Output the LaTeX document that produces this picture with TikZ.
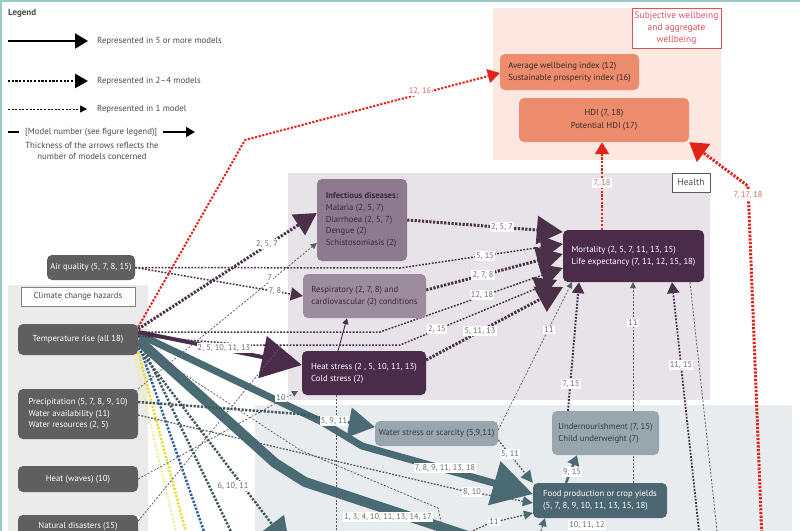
\documentclass[tikz,border=0pt]{standalone}
\usepackage{fontspec}
\setmainfont{PT Sans}
\usetikzlibrary{arrows.meta}
\definecolor{hazdark}{HTML}{5F5F5F}
\definecolor{hzbg}{HTML}{EBEBEB}
\definecolor{hlbg}{HTML}{E8E3E9}
\definecolor{nubg}{HTML}{E8ECEF}
\definecolor{wbbg}{HTML}{FDE7E1}
\definecolor{salmon}{HTML}{EC8C6C}
\definecolor{wbred}{HTML}{E0505A}
\definecolor{arrred}{HTML}{E2231A}
\definecolor{lblred}{HTML}{D8675C}
\definecolor{purp}{HTML}{4A2B4A}
\definecolor{purpline}{HTML}{4A3149}
\definecolor{infc}{HTML}{8D7A8F}
\definecolor{respc}{HTML}{9D8B9E}
\definecolor{purptext}{HTML}{3B283B}
\definecolor{tealdk}{HTML}{4C6771}
\definecolor{tealar}{HTML}{4A6B74}
\definecolor{slate}{HTML}{3F5560}
\definecolor{greyblue}{HTML}{9AA6AD}
\definecolor{linegray}{HTML}{555A5E}
\definecolor{lblgray}{HTML}{6B6B6B}
\definecolor{legtext}{HTML}{4A4A4A}
\definecolor{frame}{HTML}{9CCBC7}
\definecolor{ylw}{HTML}{E6DE30}
\definecolor{pylw}{HTML}{F1EDA0}
\definecolor{blu}{HTML}{2D5E9E}
\definecolor{wbtext}{HTML}{3B2A26}
\definecolor{nutext}{HTML}{2F3A40}
\newcommand\dgfont{\fontsize{8.7}{11.8}\selectfont}
\newcommand\lblfont{\fontsize{8.3}{9}\selectfont}
\pgfdeclarelayer{bgl}
\pgfdeclarelayer{lnl}
\pgfsetlayers{bgl,lnl,main}
\begin{document}
\begin{tikzpicture}[x=1pt,y=-1pt,font=\dgfont,
  box/.style={rounded corners=5pt, inner sep=0pt, align=left},
  hz/.style={box, fill=hazdark, text=white},
  hlth/.style={box, fill=purp, text=white},
  wbbox/.style={box, fill=salmon, text=wbtext},
  nubox/.style={box, fill=greyblue, text=nutext},
  seclab/.style={fill=white, draw=#1, line width=0.8pt, inner sep=0pt, align=center},
  legt/.style={anchor=west, text=legtext, inner sep=0pt, font=\fontsize{8.8}{11}\selectfont},
  lbl/.style={fill=white, inner sep=1.2pt, text=lblgray, font=\lblfont},
  lblr/.style={lbl, text=lblred},
  onel/.style={draw=linegray, line width=0.75pt, dash pattern=on 2pt off 1.6pt},
  midl/.style={line width=1.5pt, dash pattern=on 1.8pt off 1.5pt},
  fewl/.style={line width=3pt, dash pattern=on 2.2pt off 1.5pt},
  tipS/.style={-{Triangle[length=6pt,width=6pt]}},
  tipM/.style={-{Triangle[length=12pt,width=13pt]}},
  tipL/.style={-{Triangle[length=22pt,width=24pt]}},
  tipX/.style={-{Triangle[length=26pt,width=28pt]}}
]
\useasboundingbox (0,0) rectangle (800,530);

\begin{pgfonlayer}{bgl}
\fill[white] (0,0) rectangle (800,530);
\fill[wbbg] (493,8) rectangle (721,160);
\fill[hlbg] (288,173) rectangle (710,400);
\fill[hzbg] (8,285) rectangle (148,540);
\fill[nubg] (255,405) rectangle (792,540);
\draw[frame, line width=1.6pt] (0.8,540) -- (0.8,0.8) -- (800,0.8);
\end{pgfonlayer}

% ---------- legend ----------
\node[anchor=west, text=legtext, inner sep=0pt, font=\fontsize{9}{11}\selectfont\bfseries] (leg) at (8,13) {Legend};
\coordinate (la1) at (8,41);  \coordinate (la2) at (88,41);
\coordinate (lb1) at (8,81);  \coordinate (lb2) at (88,81);
\coordinate (lc1) at (8,109); \coordinate (lc2) at (87,109);
\coordinate (ld1) at (8,132); \coordinate (ld2) at (19,132);
\coordinate (le1) at (163,132); \coordinate (le2) at (195,132);
\draw[line width=2pt, -{Triangle[length=13pt,width=15pt]}] (la1) -- (la2);
\draw[fewl, line width=2.4pt, -{Triangle[length=13pt,width=14pt]}] (lb1) -- (lb2);
\draw[onel, draw=black, line width=0.7pt, -{Triangle[length=7pt,width=7pt]}] (lc1) -- (lc2);
\draw[line width=1.5pt] (ld1) -- (ld2);
\draw[line width=1.5pt, -{Triangle[length=9pt,width=10pt]}] (le1) -- (le2);
\node[legt] (lt1) at (97,41) {Represented in 5 or more models};
\node[legt] (lt2) at (97,81) {Represented in 2–4 models};
\node[legt] (lt3) at (97,109) {Represented in 1 model};
\node[legt] (lt4) at (25,132) {[Model number (see figure legend)]};
\node[text=legtext, align=center, inner sep=0pt, font=\fontsize{8.8}{11}\selectfont] (lt5) at (92,150.5) {Thickness of the arrows reflects the\\number of models concerned};

% ---------- section labels ----------
\node[seclab=wbred, text=wbred, minimum width=89pt, minimum height=40pt, font=\fontsize{9.4}{12}\selectfont] (wbl) at (676.5,28) {Subjective wellbeing\\and aggregate\\wellbeing};
\node[seclab=black!65, text=legtext, minimum width=38pt, minimum height=19pt, font=\fontsize{9.4}{11}\selectfont] (hl) at (691,182.5) {Health};
\node[seclab=black!50, text=legtext, minimum width=114pt, minimum height=19pt] (cch) at (78,296.5) {Climate change hazards};

% ---------- wellbeing ----------
\node[wbbox, minimum width=139pt, minimum height=36pt] (awi) at (569.5,72) {Average wellbeing index (12)\\Sustainable prosperity index (16)};
\node[wbbox, align=center, minimum width=170pt, minimum height=44pt, font=\fontsize{8.7}{12.7}\selectfont] (hdi) at (604,120) {HDI (7, 18)\\Potential HDI (17)};

% ---------- health ----------
\node[box, fill=infc, text=purptext, minimum width=90pt, minimum height=82pt, font=\fontsize{8.7}{11.8}\selectfont] (inf) at (362,220) {\textbf{Infectious diseases:}\\Malaria (2, 5, 7)\\Diarrhoea (2, 5, 7)\\Dengue (2)\\Schistosomiasis (2)};
\node[box, fill=respc, text=purptext, minimum width=123pt, minimum height=44pt] (resp) at (364.5,296) {Respiratory (2, 7, 8) and\\cardiovascular (2) conditions};
\node[hlth, minimum width=141pt, minimum height=52pt] (mort) at (633.5,256) {Mortality (2, 5, 7, 11, 13, 15)\\Life expectancy (7, 11, 12, 15, 18)};
\node[hlth, minimum width=124pt, minimum height=44pt] (heat) at (364,373) {Heat stress (2 , 5, 10, 11, 13)\\Cold stress (2)};

% ---------- hazards ----------
\node[hz, minimum width=88pt, minimum height=25pt] (air) at (91,267.5) {Air quality (5, 7, 8, 15)};
\node[hz, minimum width=120pt, minimum height=31pt] (temp) at (78,339.5) {Temperature rise (all 18)};
\node[hz, minimum width=120pt, minimum height=50pt] (prec) at (78,414) {Precipitation (5, 7, 8, 9, 10)\\Water availability (11)\\Water resources (2, 5)};
\node[hz, minimum width=120pt, minimum height=26pt] (heatw) at (78,479) {Heat (waves) (10)};
\node[hz, minimum width=120pt, minimum height=22pt] (nat) at (78,526) {Natural disasters (15)};

% ---------- nutrition ----------
\node[nubox, minimum width=123pt, minimum height=25pt] (water) at (436.5,433.5) {Water stress or scarcity (5,9,11)};
\node[nubox, minimum width=107pt, minimum height=44pt] (under) at (605.5,433) {Undernourishment (7, 15)\\Child underweight (7)};
\node[box, fill=tealdk, text=white, minimum width=134pt, minimum height=35pt] (food) at (600,500.5) {Food production or crop yields\\(5, 7, 8, 9, 10, 11, 13, 15, 18)};

% free ends below the picture
\coordinate (rb) at (762,540);
\coordinate (b1) at (336,540);
\coordinate (b2) at (480,540);
\coordinate (b3) at (290,548);
\coordinate (b4) at (700,540);
\coordinate (b5) at (718,540);
\coordinate (b6) at (452,540);
\coordinate (b7) at (538,540);
\coordinate (b8) at (445,540);
\coordinate (y1) at (178,540);
\coordinate (y2) at (188,540);
\coordinate (y3) at (207,540);
\coordinate (y4) at (235,540);

\begin{pgfonlayer}{lnl}
% red
\draw[fewl, draw=arrred, line width=2pt, -{Triangle[length=12pt,width=14pt]}] (temp.east |- 0,327) -- (245,140) -- (awi.west |- 0,73);
\draw[fewl, draw=arrred, line width=2pt, -{Triangle[length=12pt,width=14pt]}] (mort.north -| 602,0) -- (hdi.south -| 602,0);
\draw[fewl, draw=arrred, line width=3pt, line join=round, -{Triangle[length=18pt,width=22pt]}] (rb) -- (748,186) -- (hdi.south east);
% coloured dotted from temperature
\draw[fewl, draw=pylw, line width=2pt] (temp.south east) ++(-4,0) -- (y1);
\draw[fewl, draw=ylw, line width=2.5pt] (temp.east |- 0,352) -- (y2);
\draw[fewl, draw=blu, line width=2.5pt] (temp.east |- 0,354) ++(4,0) -- (y3);
\draw[fewl, draw=slate, line width=2.5pt] (temp.east |- 0,352) ++(7,0) -- (y4);
% teal solid
\draw[tealar, line width=10pt, line join=round] (temp.east |- 0,340) -- (275,463) -- (305,482) -- (b2);
\draw[tealar, line width=7pt, line join=round, -{Triangle[length=40pt,width=44pt]}] (temp.east |- 0,334) -- (322,422) -- (362,446) -- (food.west |- 0,494);
\draw[fewl, draw=slate, line width=2.5pt, -{Triangle[length=30pt,width=30pt,color=tealar]}] (temp.east |- 0,348) -- (b3);
% purple to health
\draw[fewl, draw=purpline, tipL] (temp.east |- 0,329) -- (inf.west |- 0,213);
\draw[purp, line width=4pt, -{Triangle[length=40pt,width=42pt]}] (temp.east |- 0,332) -- (heat.west |- 0,365);
\draw[midl, draw=purpline, tipL] (temp.east |- 0,332) -- (380,332) -- (mort.west |- 0,268);
\draw[midl, draw=purpline, tipL] (temp.east |- 0,336) -- (250,345) -- (400,345) -- (557,280);
\draw[onel] (nat.east |- 0,521) -- (282,345);
\draw[midl, draw=purpline, tipL] (air.east) -- (400,268) -- (mort.west |- 0,244);
\draw[midl, draw=purpline, tipM] (air.east) -- (resp.west);
\draw[onel, tipS] (prec.north east) -- (inf.west |- 0,243);
\draw[fewl, draw=purpline, tipX] (inf.east |- 0,220) -- (mort.west |- 0,232);
\draw[fewl, draw=purpline, tipX] (resp.east |- 0,290) -- (mort.west |- 0,254);
\draw[fewl, draw=purpline, tipX] (heat.east |- 0,360) -- (563,287);
\draw[purp, line width=0.9pt, tipS] (heat.north -| 338,0) -- (resp.south -| 347,0);
\draw[onel, tipS] (heatw.east) -- (298,391);
\draw[onel] (heat.south -| 336,0) -- (b1);
% water / food
\draw[fewl, draw=slate, line width=2.5pt, -{Triangle[length=26pt,width=30pt,color=tealar]}] (prec.east |- 0,402) -- (300,414) -- (water.west |- 0,427);
\draw[midl, draw=linegray, line width=1.3pt, -{Triangle[length=10pt,width=10pt,color=tealar]}] (prec.east |- 0,415) -- (460,490) -- (food.west |- 0,503);
\draw[onel] (temp.east |- 0,344) -- (300,450) -- (438,508) -- (b8);
\draw[midl, draw=linegray, line width=1.3pt, -{Triangle[length=12pt,width=12pt,color=tealar]}] (water.east |- 0,440) -- (food.north west);
\draw[onel, tipS] (water.east |- 0,430) -- (mort.south -| 572,0);
\draw[midl, draw=purpline, line width=2pt, -{Triangle[length=11pt,width=12pt]}] (under.north -| 568,0) -- (mort.south -| 579,0);
\draw[onel, tipS] (food.north -| 633,0) -- (mort.south -| 633,0);
\draw[midl, draw=purpline, line width=1.8pt, -{Triangle[length=11pt,width=12pt]}] (b4) -- (mort.south -| 672,0);
\draw[onel] (mort.south -| 690,0) -- (b5);
\draw[tealar, line width=2.5pt, -{Triangle[length=10pt,width=12pt]}] (food.north -| 566,0) -- (under.south -| 577,0);
\draw[midl, draw=linegray, line width=1.3pt, -{Triangle[length=9pt,width=9pt,color=tealar]}] (b6) -- (490,523) -- (food.west |- 0,513);
\draw[midl, draw=linegray, line width=1.3pt, -{Triangle[length=8pt,width=8pt,color=tealar]}] (b7) -- (food.south -| 545,0);
\end{pgfonlayer}

% ---------- connector labels ----------
\node[lblr] (q1) at (420,91) {12, 16};
\node[lblr] (q2) at (602,183) {7, 18};
\node[lblr] (q3) at (748,195) {7, 17, 18};
\node[lbl] (q4) at (502,227) {2, 5, 7};
\node[lbl] (q5) at (267,244) {2, 5, 7};
\node[lbl] (q6) at (485,256) {5, 15};
\node[lbl] (q7) at (275,291) {7, 8};
\node[lbl] (q8) at (270,278) {7};
\node[lbl] (q9) at (483,275) {2, 7, 8};
\node[lbl] (q10) at (482,295) {12, 18};
\node[lbl] (q11) at (437,329) {2, 15};
\node[lbl] (q12) at (480,331) {5, 11, 13};
\node[lbl] (q13) at (224,348) {2, 5, 10, 11, 13};
\node[lbl] (q14) at (281,398) {10};
\node[lbl] (q15) at (334,421) {5, 9, 11};
\node[lbl] (q16) at (445,468) {7, 8, 9, 11, 13, 18};
\node[lbl] (q17) at (472,492) {8, 10};
\node[lbl] (q18) at (388,517) {1, 3, 4, 10, 11, 13, 14, 17};
\node[lbl] (q19) at (233,486) {6, 10, 11};
\node[lbl] (q20) at (510,454) {5, 11};
\node[lbl] (q21) at (549,330) {11};
\node[lbl] (q22) at (571,384) {7, 15};
\node[lbl] (q23) at (633,323) {11};
\node[lbl] (q24) at (681,365) {11, 15};
\node[lbl] (q25) at (572,472) {9, 15};
\node[lbl] (q26) at (494,522) {11};
\node[lbl] (q27) at (587,525) {10, 11, 12};
\end{tikzpicture}
\end{document}
